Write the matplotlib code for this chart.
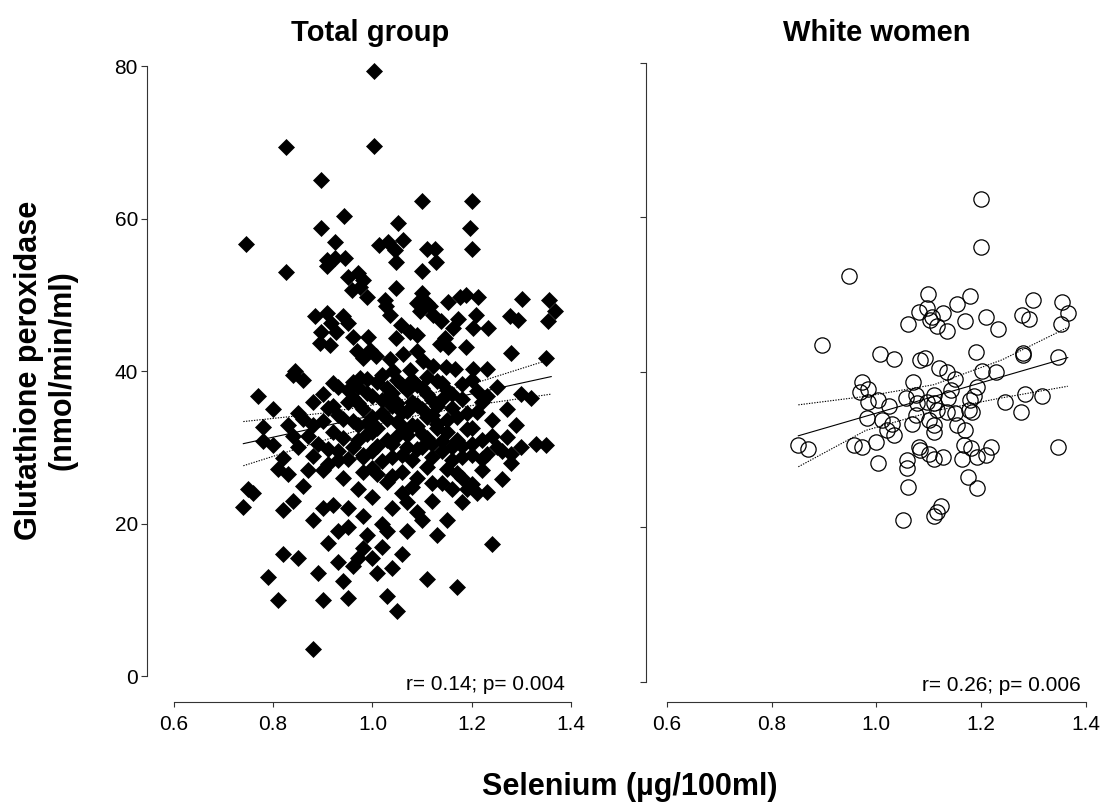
import matplotlib
matplotlib.use("Agg")
import matplotlib.pyplot as plt

plt.rcParams['font.family'] = ['Liberation Sans', 'DejaVu Sans']

# ---- Total group (filled diamonds) ----
total_x = [
    1.004, 0.825, 1.004, 0.896, 1.100, 1.201, 0.943, 0.896, 1.052, 1.196,
    0.746, 0.924, 1.062, 1.014, 1.032, 1.109, 1.126, 1.201, 1.045, 0.908,
    0.924, 0.944, 0.908, 1.048, 1.129, 0.825, 1.100, 0.951, 0.971, 0.981,
    0.958, 0.975, 0.990, 1.048, 1.100, 1.025, 1.089, 1.109, 1.116, 1.153,
    1.176, 1.189, 1.212, 1.301, 1.356, 1.368, 1.354, 1.277, 1.294, 1.028,
    1.035, 0.884, 0.908, 0.941, 0.951, 0.917, 0.897, 0.927, 0.894, 0.914,
    0.961, 0.991, 1.058, 1.048, 1.075, 1.089, 1.096, 1.122, 1.139, 1.162,
    1.172, 1.209, 1.202, 1.233, 1.146, 1.136, 1.153, 1.189, 1.280, 1.350,
    0.968, 0.995, 0.981, 1.008, 1.035, 1.062, 1.089, 1.102, 1.122, 1.149,
    1.166, 1.203, 1.230, 0.844, 0.975, 1.042, 1.075,
    # lower cloud
    0.86, 0.92, 0.95, 0.97, 0.99, 1.01, 1.03, 1.05, 1.07, 1.09,
    1.11, 1.13, 1.15, 1.18, 1.21, 1.25, 1.30, 0.77, 0.84,
    0.80, 0.85, 0.88, 0.91, 0.93, 0.96, 0.98, 1.00, 1.02, 1.04,
    1.06, 1.08, 1.10, 1.12, 1.14, 1.16, 1.19, 1.22, 1.27, 1.32,
    0.78, 0.83, 0.87, 0.90, 0.92, 0.94, 0.97, 0.99, 1.01, 1.03,
    1.05, 1.07, 1.09, 1.11, 1.13, 1.15, 1.17, 1.20, 1.24, 1.29,
    1.33, 1.35,
    0.80, 0.82, 0.85, 0.88, 0.91, 0.93, 0.96, 0.98, 1.00, 1.02,
    1.04, 1.06, 1.08, 1.10, 1.12, 1.14, 1.16, 1.18, 1.20, 1.22,
    1.25, 1.28,
    0.75, 0.76, 0.83, 0.86, 0.90, 0.94, 0.97, 1.00, 1.03, 1.06,
    1.08, 1.11, 1.14, 1.17, 1.19, 1.22, 1.26,
    0.74, 0.82, 0.84, 0.88, 0.92, 0.95, 0.98, 1.00, 1.02, 1.04,
    1.07, 1.09, 1.12, 1.15, 1.18, 1.21,
    0.79, 0.82, 0.85, 0.89, 0.91, 0.93, 0.96, 0.98, 1.00, 1.02,
    1.04, 1.06, 1.24,
    0.81, 0.88, 0.90, 0.95, 1.03, 1.05, 1.11, 1.17,
    # dense core
    0.93, 0.95, 0.96, 0.97, 0.98, 0.99, 1.00, 1.00, 1.01, 1.02,
    1.02, 1.03, 1.03, 1.04, 1.04, 1.05, 1.05, 1.06, 1.06, 1.07,
    1.07, 1.08, 1.08, 1.09, 1.09, 1.10, 1.10, 1.11, 1.11, 1.12,
    1.12, 1.13, 1.13, 1.14, 1.14, 1.15, 1.16, 1.16, 1.17, 1.18,
    1.18, 1.19, 1.20, 1.20, 1.21, 1.22, 1.23, 1.23, 1.24, 1.26,
    1.27, 1.28, 1.30, 0.88, 0.89, 0.90, 0.91, 0.92, 0.93, 0.94,
    0.95, 0.96, 0.97, 0.98, 0.99, 1.01, 1.04, 1.06, 1.09, 1.12,
    1.15, 1.18, 1.20, 1.23, 0.87, 0.86, 0.84, 0.81, 0.78, 0.95,
    0.99, 1.03, 1.07, 1.10, 1.13, 1.16, 0.93, 0.90, 0.97, 1.01,
    0.94,
]
total_y = [
    79.4, 69.4, 69.6, 65.1, 62.3, 62.3, 60.4, 58.8, 59.4, 58.8,
    56.7, 56.9, 57.2, 56.6, 57.0, 56.1, 56.1, 56.1, 55.9, 54.6,
    54.8, 54.9, 53.8, 54.3, 54.3, 53.0, 53.2, 52.4, 52.9, 52.0,
    50.7, 51.1, 49.8, 50.9, 50.3, 49.4, 49.0, 49.0, 48.5, 49.1,
    49.8, 50.0, 49.8, 49.5, 49.4, 47.9, 46.6, 47.3, 46.7, 48.5,
    47.4, 47.3, 47.6, 47.2, 46.3, 46.3, 45.2, 45.2, 43.7, 43.5,
    44.5, 44.5, 46.1, 44.3, 45.2, 44.8, 47.9, 47.4, 46.6, 45.7,
    46.8, 47.4, 45.7, 45.7, 44.4, 43.6, 43.2, 43.2, 42.4, 41.7,
    42.6, 42.8, 41.8, 42.0, 41.6, 42.2, 42.6, 41.4, 40.7, 40.5,
    40.3, 40.3, 40.3, 40.0, 39.1, 40.0, 40.2,
    38.8, 38.5, 37.5, 38.0, 37.2, 38.6, 37.8, 38.9, 37.5, 38.2,
    37.0, 38.7, 37.6, 38.3, 37.4, 38.0, 37.0, 36.8, 39.5,
    35.0, 34.5, 36.0, 35.2, 34.3, 36.5, 35.0, 34.0, 36.2, 35.4,
    34.6, 36.0, 35.0, 34.2, 36.4, 35.2, 34.5, 36.0, 35.0, 36.5,
    32.7, 33.0, 31.5, 33.5, 32.0, 31.2, 33.0, 31.8, 32.6, 31.0,
    33.3, 31.6, 32.8, 31.3, 33.1, 32.0, 31.0, 32.5, 31.5, 33.0,
    30.5, 30.3,
    30.3, 28.6, 30.0, 28.9, 29.8, 28.3, 30.1, 28.7, 29.6, 28.2,
    30.4, 29.0, 28.4, 30.0, 28.8, 29.6, 28.3, 30.2, 29.0, 28.5,
    30.0, 29.2,
    24.5, 24.0, 26.5, 25.0, 27.0, 26.0, 24.5, 27.3, 25.5, 26.8,
    24.8, 27.5, 25.3, 26.6, 24.6, 27.0, 25.8,
    22.2, 21.8, 23.0, 20.5, 22.5, 19.5, 21.0, 23.5, 20.0, 22.0,
    19.0, 21.5, 23.0, 20.5, 22.8, 24.0,
    13.0, 16.0, 15.5, 13.5, 17.5, 15.0, 14.5, 16.8, 15.5, 17.0,
    14.2, 16.0, 17.3,
    10.0, 3.5, 10.0, 10.2, 10.5, 8.5, 12.7, 11.7,
    # dense core
    38.0, 36.0, 33.5, 31.0, 29.0, 39.0, 36.8, 32.0, 30.2, 34.5,
    39.5, 36.5, 33.8, 28.8, 37.2, 31.5, 35.8, 38.2, 32.8, 30.0,
    34.8, 38.8, 33.0, 29.8, 35.6, 37.8, 31.8, 34.0, 39.2, 36.2,
    30.4, 32.6, 35.5, 38.4, 30.8, 33.6, 37.0, 30.0, 34.0, 28.8,
    36.4, 32.4, 38.8, 30.5, 34.6, 31.0, 29.2, 36.8, 33.6, 29.5,
    31.4, 28.0, 30.0, 33.0, 30.5, 37.0, 27.8, 35.5, 29.5, 33.8,
    28.5, 38.6, 35.8, 26.8, 33.2, 26.5, 26.2, 24.0, 26.0, 25.4,
    27.2, 26.0, 25.2, 24.2, 27.0, 33.8, 31.5, 27.2, 30.8, 22.0,
    18.5, 19.0, 22.8, 20.5, 18.5, 24.5, 19.0, 22.0, 15.5, 13.5,
    12.5,
]

# ---- White women (open circles) ----
white_x = [
    1.201, 1.201, 0.948, 1.099, 1.180, 1.300, 1.355, 1.154, 1.081, 1.097,
    1.127, 1.107, 1.103, 1.366, 1.279, 1.292, 1.209, 1.169, 1.060, 1.116,
    1.135, 1.232, 1.353, 0.897, 1.008, 1.033, 1.084, 1.094, 1.191, 1.280,
    1.280, 1.348, 1.119, 1.135, 1.151, 1.203, 1.228, 0.973, 1.071, 0.968,
    0.985, 1.193, 1.142, 1.285, 1.317, 1.247, 1.276, 0.985, 1.004, 1.024,
    1.056, 1.075, 1.078, 1.097, 1.110, 1.110, 1.116, 1.138, 1.135, 1.151,
    1.180, 1.186, 1.177, 1.183, 0.982, 1.011, 1.030, 1.020, 1.033, 1.068,
    1.075, 1.100, 1.110, 1.110, 1.154, 1.170, 0.851, 0.869, 0.958, 0.973,
    1.000, 1.003, 1.059, 1.059, 1.060, 1.081, 1.084, 1.100, 1.110, 1.127,
    1.164, 1.167, 1.181, 1.193, 1.210, 1.220, 1.348, 1.175, 1.193, 1.123,
    1.116, 1.111, 1.052,
]
white_y = [
    62.4, 56.2, 52.4, 50.1, 49.9, 49.4, 49.1, 48.8, 47.8, 48.3,
    47.6, 47.2, 46.8, 47.6, 47.4, 46.9, 47.1, 46.6, 46.3, 46.0,
    45.3, 45.6, 46.3, 43.5, 42.4, 41.7, 41.6, 41.8, 42.6, 42.5,
    42.3, 42.0, 40.5, 40.1, 39.2, 40.2, 40.0, 38.8, 38.8, 37.4,
    37.9, 38.1, 37.7, 37.2, 36.9, 36.2, 34.9, 36.2, 36.4, 35.6,
    36.7, 37.1, 36.0, 36.2, 37.1, 36.0, 35.1, 36.7, 34.9, 34.7,
    36.4, 36.9, 35.1, 34.9, 34.1, 33.8, 33.3, 32.6, 31.9, 33.3,
    34.5, 33.9, 33.2, 32.3, 33.2, 32.6, 30.6, 30.1, 30.6, 30.3,
    31.0, 28.3, 28.7, 27.6, 25.2, 30.3, 30.0, 29.5, 28.8, 29.0,
    28.8, 30.6, 30.2, 29.1, 29.3, 30.3, 30.3, 26.5, 25.0, 22.7,
    22.0, 21.5, 20.9,
]

# regression line and 95% band
total_fit_x = [0.74, 1.36]
total_fit_y = [30.5, 39.3]
total_band_x = [0.74, 0.90, 1.05, 1.20, 1.36]
total_band_hi = [33.4, 34.5, 36.1, 38.3, 41.6]
total_band_lo = [27.6, 30.9, 33.7, 35.5, 37.0]

white_fit_x = [0.851, 1.366]
white_fit_y = [31.8, 41.9]
white_band_x = [0.851, 0.98, 1.11, 1.24, 1.366]
white_band_hi = [35.8, 36.9, 38.4, 41.6, 45.8]
white_band_lo = [27.8, 32.5, 35.0, 36.7, 38.2]

fig = plt.figure(figsize=(11.05, 8.08), dpi=100)
fig.patch.set_facecolor("white")

ax1 = fig.add_axes([147 / 1105, 106 / 808, 434 / 1105, 647 / 808])
ax2 = fig.add_axes([646 / 1105, 106 / 808, 450 / 1105, 651 / 808])

ax1.plot(total_x, total_y, linestyle="none", marker="D", markersize=8.5,
         markerfacecolor="black", markeredgecolor="black", markeredgewidth=0.5)
ax1.plot(total_fit_x, total_fit_y, color="black", linewidth=0.8)
ax1.plot(total_band_x, total_band_hi, color="black", linewidth=0.8, linestyle=(0, (1.2, 1.2)))
ax1.plot(total_band_x, total_band_lo, color="black", linewidth=0.8, linestyle=(0, (1.2, 1.2)))

ax2.plot(white_x, white_y, linestyle="none", marker="o", markersize=11,
         markerfacecolor="none", markeredgecolor="black", markeredgewidth=0.9)
ax2.plot(white_fit_x, white_fit_y, color="black", linewidth=0.8)
ax2.plot(white_band_x, white_band_hi, color="black", linewidth=0.8, linestyle=(0, (1.2, 1.2)))
ax2.plot(white_band_x, white_band_lo, color="black", linewidth=0.8, linestyle=(0, (1.2, 1.2)))

ax1.set_xlim(0.546, 1.42)
ax1.set_ylim(-3.4, 81.5)
ax2.set_xlim(0.5598, 1.42)
ax2.set_ylim(-2.58, 81.5)

for ax in [ax1, ax2]:
    ax.set_facecolor("none")
    ax.spines['top'].set_visible(False)
    ax.spines['right'].set_visible(False)
    ax.spines['left'].set_bounds(0, 80)
    ax.spines['bottom'].set_bounds(0.6, 1.4)
    ax.spines['left'].set_color('#333333')
    ax.spines['bottom'].set_color('#333333')
    ax.spines['left'].set_linewidth(0.8)
    ax.spines['bottom'].set_linewidth(0.8)
    ax.set_xticks([0.6, 0.8, 1.0, 1.2, 1.4])
    ax.set_xticklabels(["0.6", "0.8", "1.0", "1.2", "1.4"])
    ax.set_yticks([0, 20, 40, 60, 80])
    ax.tick_params(axis='x', direction='out', length=3.6, width=0.8, pad=6,
                   labelsize=15, color='#333333')
    ax.tick_params(axis='y', direction='out', length=4.5, width=0.8, pad=2,
                   labelsize=15, color='#333333')

ax2.set_yticklabels([])

ax1.text(1.388, -1.8, "r= 0.14; p= 0.004", ha="right", va="baseline", fontsize=15)
ax2.text(1.390, -1.2, "r= 0.26; p= 0.006", ha="right", va="baseline", fontsize=15)

fig.text(370 / 1105, 1 - 41 / 808, "Total group", ha="center", va="baseline",
         fontsize=21, fontweight="bold")
fig.text(877 / 1105, 1 - 41 / 808, "White women", ha="center", va="baseline",
         fontsize=21, fontweight="bold")
fig.text(46 / 1105, 1 - 370 / 808, "Glutathione peroxidase\n(nmol/min/ml)",
         rotation=90, ha="center", va="center", multialignment="center",
         fontsize=22, fontweight="bold", linespacing=1.15)
fig.text(630 / 1105, 1 - 795 / 808, "Selenium (\u00b5g/100ml)", ha="center",
         va="baseline", fontsize=22, fontweight="bold")

fig.savefig("out.png", dpi=100, facecolor="white")
